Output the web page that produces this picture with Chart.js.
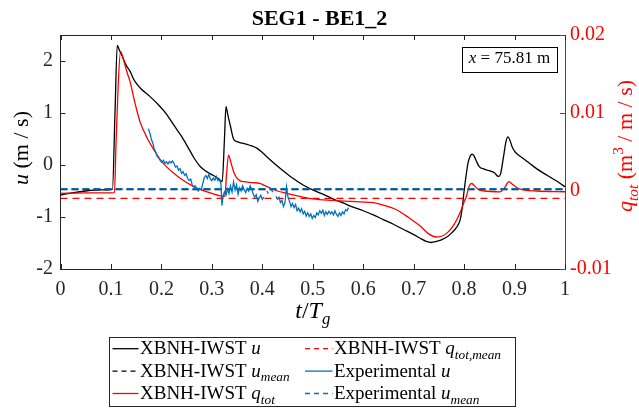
<!DOCTYPE html>
<html>
<head>
<meta charset="utf-8">
<script src="https://cdn.jsdelivr.net/npm/chart.js@4.4.1/dist/chart.umd.min.js"></script>
<style>
  body { margin: 0; background: #fff; }
  #wrap { width: 639px; height: 408px; }
</style>
</head>
<body>
<div id="wrap"><canvas id="segChart" width="639" height="408"></canvas></div>
<script>
// axis ranges and ticks
const tRange = [0, 1];
const uRange = [-2, 2.5];
const qRange = [-0.01, 0.02];
const tTicks = [0, 0.1, 0.2, 0.3, 0.4, 0.5, 0.6, 0.7, 0.8, 0.9, 1];
const tLabels = ["0", "0.1", "0.2", "0.3", "0.4", "0.5", "0.6", "0.7", "0.8", "0.9", "1"];
const uTicks = [-2, -1, 0, 1, 2];
const uLabels = ["-2", "-1", "0", "1", "2"];
const qTicks = [-0.01, 0, 0.01, 0.02];
const qLabels = ["-0.01", "0", "0.01", "0.02"];

// XBNH-IWST u (left axis)
const tModelU = [0, 0.02, 0.05, 0.08, 0.103, 0.108, 0.1125, 0.117, 0.122, 0.13, 0.138, 0.145, 0.152, 0.16, 0.177,
  0.195, 0.21, 0.225, 0.24, 0.255, 0.265, 0.277, 0.287, 0.297, 0.31, 0.3205, 0.325, 0.328, 0.332, 0.337,
  0.343, 0.35, 0.36, 0.375, 0.39, 0.40, 0.41, 0.425, 0.44, 0.46, 0.48, 0.50, 0.52, 0.54, 0.56,
  0.58, 0.60, 0.62, 0.64, 0.66, 0.68, 0.70, 0.715, 0.725, 0.735, 0.745, 0.755, 0.765, 0.775, 0.785,
  0.792, 0.796, 0.80, 0.804, 0.808, 0.812, 0.816, 0.82, 0.825, 0.83, 0.84, 0.85, 0.86, 0.868, 0.872,
  0.878, 0.883, 0.887, 0.891, 0.896, 0.902, 0.915, 0.93, 0.945, 0.96, 0.975, 0.99, 1.0];
const uModel = [-0.58, -0.54, -0.50, -0.48, -0.47, 1.00, 2.30, 2.20, 2.10, 1.92, 1.80, 1.65, 1.55, 1.46, 1.32,
  1.15, 0.98, 0.76, 0.55, 0.30, 0.13, -0.03, -0.11, -0.17, -0.24, -0.32, 0.50, 1.12, 0.95, 0.74,
  0.50, 0.45, 0.42, 0.38, 0.32, 0.24, 0.15, 0.02, -0.10, -0.25, -0.38, -0.48, -0.56, -0.65, -0.73,
  -0.81, -0.88, -0.96, -1.05, -1.14, -1.24, -1.34, -1.42, -1.47, -1.49, -1.47, -1.44, -1.39, -1.31, -1.20,
  -1.06, -0.85, -0.50, -0.20, 0.05, 0.17, 0.21, 0.17, 0.06, -0.03, -0.08, -0.11, -0.15, -0.22, -0.18,
  0.15, 0.45, 0.54, 0.47, 0.33, 0.24, 0.14, 0.03, -0.08, -0.17, -0.26, -0.35, -0.42];

// XBNH-IWST q_tot (right axis)
const tModelQ = [0, 0.05, 0.107, 0.110, 0.114, 0.119, 0.125, 0.132, 0.138, 0.145, 0.151, 0.158, 0.171, 0.184, 0.197,
  0.212, 0.224, 0.24, 0.263, 0.277, 0.30, 0.3235, 0.326, 0.329, 0.333, 0.338, 0.343, 0.349, 0.356, 0.362,
  0.38, 0.395, 0.405, 0.415, 0.43, 0.449, 0.475, 0.50, 0.54, 0.594, 0.62, 0.64, 0.666, 0.69, 0.713,
  0.73, 0.745, 0.755, 0.766, 0.78, 0.792, 0.80, 0.805, 0.81, 0.815, 0.82, 0.828, 0.84, 0.871, 0.88,
  0.889, 0.895, 0.905, 0.92, 0.944, 1.0];
const qModel = [-0.0003, -0.00025, -0.0002, 0.006, 0.013, 0.0179, 0.0168, 0.0152, 0.0140, 0.0120, 0.0104, 0.0088, 0.0069, 0.0054, 0.0041,
  0.0030, 0.0023, 0.0015, 0.0006, 0.0002, -0.0003, -0.0007, -0.0006, 0.002, 0.0046, 0.0036, 0.0025, 0.0017, 0.0013, 0.0012,
  0.00108, 0.00098, 0.0007, 0.0004, 0.0, -0.0003, -0.0007, -0.001, -0.0012, -0.0014, -0.0015, -0.0018, -0.0024, -0.0034, -0.0045,
  -0.0055, -0.0059, -0.0058, -0.0054, -0.0043, -0.0028, -0.0014, -0.0006, 0.0006, 0.00096, 0.0007, 0.0002, 0.0, -0.0001, 0.0004,
  0.0012, 0.0009, 0.0004, 0.0001, 0.0, -0.0001];

// Experimental u (left axis), gaps where the record drops out
const tExp = [0.174, 0.177, 0.180, 0.183, 0.186, 0.189, 0.192, 0.195, 0.198, 0.201, 0.204, 0.207, 0.210, 0.213, 0.216,
  0.219, 0.222, 0.225, 0.228, 0.231, 0.234, 0.237, 0.240, 0.243, 0.246, 0.249, 0.252, 0.255, 0.258, 0.261,
  0.264, 0.267, 0.270, 0.273, 0.276, 0.279, 0.282, 0.285, 0.288, 0.291, 0.294, 0.297, 0.300, 0.303, 0.306,
  0.309, 0.312, 0.315, 0.318, 0.320, 0.322, 0.325, 0.328, 0.331, 0.334, 0.337, 0.340, 0.343, 0.346, 0.349,
  0.352, 0.355, 0.358, 0.361, 0.364, 0.367, 0.370, 0.373, 0.376, 0.379, 0.382, 0.385, 0.388, 0.391, 0.394,
  0.397, 0.400, 0.403, 0.406, 0.409, 0.412, 0.415, 0.418, 0.421, 0.424, 0.427, 0.430, 0.433, 0.436, 0.439,
  0.442, 0.445, 0.448, 0.451, 0.454, 0.457, 0.460, 0.463, 0.466, 0.469, 0.472, 0.475, 0.478, 0.481, 0.484,
  0.487, 0.490, 0.493, 0.496, 0.499, 0.502, 0.505, 0.508, 0.511, 0.514, 0.517, 0.520, 0.523, 0.526, 0.529,
  0.532, 0.535, 0.538, 0.541, 0.544, 0.547, 0.550, 0.553, 0.556, 0.559, 0.562, 0.565, 0.568, 0.571];
const uExp = [0.70, 0.62, 0.50, 0.42, 0.30, 0.24, 0.16, 0.13, 0.08, 0.05, 0.09, 0.03, 0.06, 0.02, 0.07,
  0.04, 0.08, 0.03, -0.04, -0.02, -0.10, -0.07, -0.16, -0.13, -0.20, -0.17, -0.26, -0.30, -0.27, -0.38,
  -0.42, -0.40, -0.47, -0.50, -0.45, -0.48, -0.36, -0.24, -0.20, -0.26, -0.18, -0.27, -0.30, -0.25, -0.29,
  -0.22, -0.30, -0.27, -0.36, -0.78, -0.60, -0.52, -0.58, -0.46, -0.55, -0.40, -0.52, -0.33, -0.48, -0.38,
  -0.56, -0.44, -0.50, -0.40, -0.47, -0.53, -0.45, -0.50, -0.40, -0.46, -0.56, -0.62, -0.57, -0.70, -0.63,
  -0.58, -0.66, -0.62, null, -0.50, -0.55, null, -0.48, -0.52, null, -0.60, -0.66, -0.62, -0.72, -0.68,
  -0.80, -0.72, -0.42, -0.62, -0.70, -0.80, -0.74, -0.82, -0.76, -0.88, -0.83, -0.90, -0.84, -0.94, -0.89,
  -0.98, -0.92, -0.99, -0.94, -1.03, -0.97, -1.01, -0.92, -0.96, -0.88, -0.93, -0.87, -0.97, -0.90, -0.95,
  -0.89, -0.94, -0.90, -0.96, -0.88, -0.95, -0.99, -0.92, -0.97, -0.90, -0.94, -0.86, -0.88, -0.82];

// mean levels
const uMean = -0.47;
const uExpMean = -0.46;
const qMean = -0.00095;

const serif = '"Liberation Serif", "Times New Roman", serif';
const axisGray = "#262626";
const expBlue = "#0072BD";

function pts(xs, ys) {
  return xs.map((x, i) => ({ x: x, y: ys[i] }));
}

function fontOf(size, italic) {
  return (italic ? "italic " : "") + size + "px " + serif;
}

// draw text made of runs {t, it, sub, sup}, y is the baseline
function drawRich(ctx, runs, x, y, size, align) {
  let w = 0;
  runs.forEach(r => {
    ctx.font = fontOf(r.sub || r.sup ? size * 0.7 : size, r.it);
    w += ctx.measureText(r.t).width;
  });
  let cx = align === "center" ? x - w / 2 : x;
  ctx.textAlign = "left";
  ctx.textBaseline = "alphabetic";
  runs.forEach(r => {
    const s = r.sub || r.sup ? size * 0.7 : size;
    ctx.font = fontOf(s, r.it);
    const dy = r.sub ? size * 0.25 : (r.sup ? -size * 0.4 : 0);
    ctx.fillText(r.t, cx, y + dy);
    cx += ctx.measureText(r.t).width;
  });
}

// MATLAB-like extras: inward ticks, top edge, axis titles, note box, legend
const figureExtras = {
  id: "figureExtras",
  afterDraw(chart) {
    const ctx = chart.ctx;
    const area = chart.chartArea;
    const xs = chart.scales.x, ys = chart.scales.y, qs = chart.scales.q;
    ctx.save();
    ctx.lineWidth = 1;
    ctx.setLineDash([]);

    // top edge
    ctx.strokeStyle = axisGray;
    ctx.beginPath();
    ctx.moveTo(area.left, area.top + 0.5);
    ctx.lineTo(area.right, area.top + 0.5);
    ctx.stroke();

    // x ticks, bottom and top
    ctx.beginPath();
    tTicks.forEach(v => {
      const px = Math.round(xs.getPixelForValue(v)) + 0.5;
      ctx.moveTo(px, area.bottom);
      ctx.lineTo(px, area.bottom - 5);
      ctx.moveTo(px, area.top);
      ctx.lineTo(px, area.top + 5);
    });
    uTicks.forEach(v => {
      const py = Math.round(ys.getPixelForValue(v)) + 0.5;
      ctx.moveTo(area.left, py);
      ctx.lineTo(area.left + 5, py);
    });
    ctx.stroke();

    ctx.strokeStyle = "#ff0000";
    ctx.beginPath();
    qTicks.forEach(v => {
      const py = Math.round(qs.getPixelForValue(v)) + 0.5;
      ctx.moveTo(area.right, py);
      ctx.lineTo(area.right - 5, py);
    });
    ctx.stroke();

    // axis titles
    ctx.fillStyle = "#000";
    drawRich(ctx, [{ t: "t", it: true }, { t: "/" }, { t: "T", it: true }, { t: "g", it: true, sub: true }],
      (area.left + area.right) / 2, 318, 24, "center");

    ctx.save();
    ctx.translate(28, (area.top + area.bottom) / 2 - 4);
    ctx.rotate(-Math.PI / 2);
    drawRich(ctx, [{ t: "u", it: true }, { t: " (m / s)" }], 0, 0, 22, "center");
    ctx.restore();

    ctx.save();
    ctx.fillStyle = "#ff0000";
    ctx.translate(632, (area.top + area.bottom) / 2 - 6);
    ctx.rotate(-Math.PI / 2);
    drawRich(ctx, [{ t: "q", it: true }, { t: "tot", it: true, sub: true }, { t: " (m" },
      { t: "3", sup: true }, { t: " / m / s)" }], 0, 0, 22, "center");
    ctx.restore();

    // location note
    ctx.fillStyle = "#fff";
    ctx.fillRect(462, 47, 95, 25);
    ctx.strokeStyle = "#000";
    ctx.strokeRect(462.5, 47.5, 95, 25);
    ctx.fillStyle = "#000";
    drawRich(ctx, [{ t: "x", it: true }, { t: " = 75.81 m" }], 509.5, 63, 17, "center");

    // legend box
    ctx.strokeStyle = axisGray;
    ctx.strokeRect(109.5, 337.5, 406, 69);
    const rows = [348.7, 371.1, 393.5];
    const items = [
      { col: 0, row: 0, color: "#000", dash: [], runs: [{ t: "XBNH-IWST " }, { t: "u", it: true }] },
      { col: 0, row: 1, color: "#000", dash: [5, 4], runs: [{ t: "XBNH-IWST " }, { t: "u", it: true }, { t: "mean", it: true, sub: true }] },
      { col: 0, row: 2, color: "#ff0000", dash: [], runs: [{ t: "XBNH-IWST " }, { t: "q", it: true }, { t: "tot", it: true, sub: true }] },
      { col: 1, row: 0, color: "#ff0000", dash: [5, 4], runs: [{ t: "XBNH-IWST " }, { t: "q", it: true }, { t: "tot,mean", it: true, sub: true }] },
      { col: 1, row: 1, color: expBlue, dash: [], runs: [{ t: "Experimental " }, { t: "u", it: true }] },
      { col: 1, row: 2, color: expBlue, dash: [5, 4], runs: [{ t: "Experimental " }, { t: "u", it: true }, { t: "mean", it: true, sub: true }] }
    ];
    const colLine = [[112.5, 138.5], [305, 332.5]];
    const colText = [140, 334];
    items.forEach(it => {
      const y = rows[it.row];
      ctx.strokeStyle = it.color;
      ctx.lineWidth = 1.3;
      ctx.setLineDash(it.dash);
      ctx.beginPath();
      ctx.moveTo(colLine[it.col][0], y);
      ctx.lineTo(colLine[it.col][1], y);
      ctx.stroke();
      ctx.fillStyle = "#000";
      drawRich(ctx, it.runs, colText[it.col], y + 5.5, 19, "left");
    });
    ctx.restore();
  }
};

new Chart(document.getElementById("segChart"), {
  type: "line",
  data: {
    datasets: [
      {
        label: "XBNH-IWST u",
        data: pts(tModelU, uModel),
        yAxisID: "y",
        borderColor: "#000",
        borderWidth: 1.3,
        cubicInterpolationMode: "monotone",
        order: 5
      },
      {
        label: "XBNH-IWST u mean",
        data: pts(tRange, [uMean, uMean]),
        yAxisID: "y",
        borderColor: "#000",
        borderWidth: 1.6,
        borderDash: [7, 4],
        order: 4
      },
      {
        label: "XBNH-IWST q tot",
        data: pts(tModelQ, qModel),
        yAxisID: "q",
        borderColor: "#ff0000",
        borderWidth: 1.3,
        cubicInterpolationMode: "monotone",
        order: 3
      },
      {
        label: "XBNH-IWST q tot,mean",
        data: pts(tRange, [qMean, qMean]),
        yAxisID: "q",
        borderColor: "#ff0000",
        borderWidth: 1.2,
        borderDash: [7, 5],
        order: 2
      },
      {
        label: "Experimental u",
        data: pts(tExp, uExp),
        yAxisID: "y",
        borderColor: expBlue,
        borderWidth: 1.3,
        spanGaps: false,
        order: 1
      },
      {
        label: "Experimental u mean",
        data: pts(tRange, [uExpMean, uExpMean]),
        yAxisID: "y",
        borderColor: expBlue,
        borderWidth: 1.6,
        borderDash: [7, 4],
        order: 0
      }
    ]
  },
  options: {
    responsive: false,
    animation: false,
    events: [],
    elements: { point: { radius: 0 }, line: { tension: 0 } },
    layout: { padding: 0 },
    plugins: {
      legend: { display: false },
      tooltip: { enabled: false },
      title: {
        display: true,
        text: "SEG1 - BE1_2",
        color: "#000",
        font: { family: serif, size: 22, weight: "bold", lineHeight: 1.2 },
        padding: { top: 6, bottom: 2.6 }
      }
    },
    scales: {
      x: {
        type: "linear",
        min: tRange[0],
        max: tRange[1],
        afterFit: s => { s.height = 139; },
        afterBuildTicks: s => { s.ticks = tTicks.map(v => ({ value: v })); },
        grid: { display: false, drawTicks: false },
        border: { display: true, color: axisGray, width: 1 },
        ticks: {
          color: axisGray,
          padding: 9,
          maxRotation: 0,
          autoSkip: false,
          font: { family: serif, size: 20 },
          callback: (v, i) => tLabels[i]
        }
      },
      y: {
        type: "linear",
        position: "left",
        min: uRange[0],
        max: uRange[1],
        afterFit: s => { s.width = 60.5; },
        afterBuildTicks: s => { s.ticks = uTicks.map(v => ({ value: v })); },
        grid: { display: false, drawTicks: false },
        border: { display: true, color: axisGray, width: 1 },
        ticks: {
          color: axisGray,
          padding: 7.5,
          font: { family: serif, size: 20 },
          callback: (v, i) => uLabels[i]
        }
      },
      q: {
        type: "linear",
        position: "right",
        min: qRange[0],
        max: qRange[1],
        afterFit: s => { s.width = 74; },
        afterBuildTicks: s => { s.ticks = qTicks.map(v => ({ value: v })); },
        grid: { display: false, drawTicks: false },
        border: { display: true, color: "#ff0000", width: 1 },
        ticks: {
          color: "#ff0000",
          padding: 5,
          font: { family: serif, size: 20 },
          callback: (v, i) => qLabels[i]
        }
      }
    }
  },
  plugins: [figureExtras]
});
</script>
</body>
</html>
